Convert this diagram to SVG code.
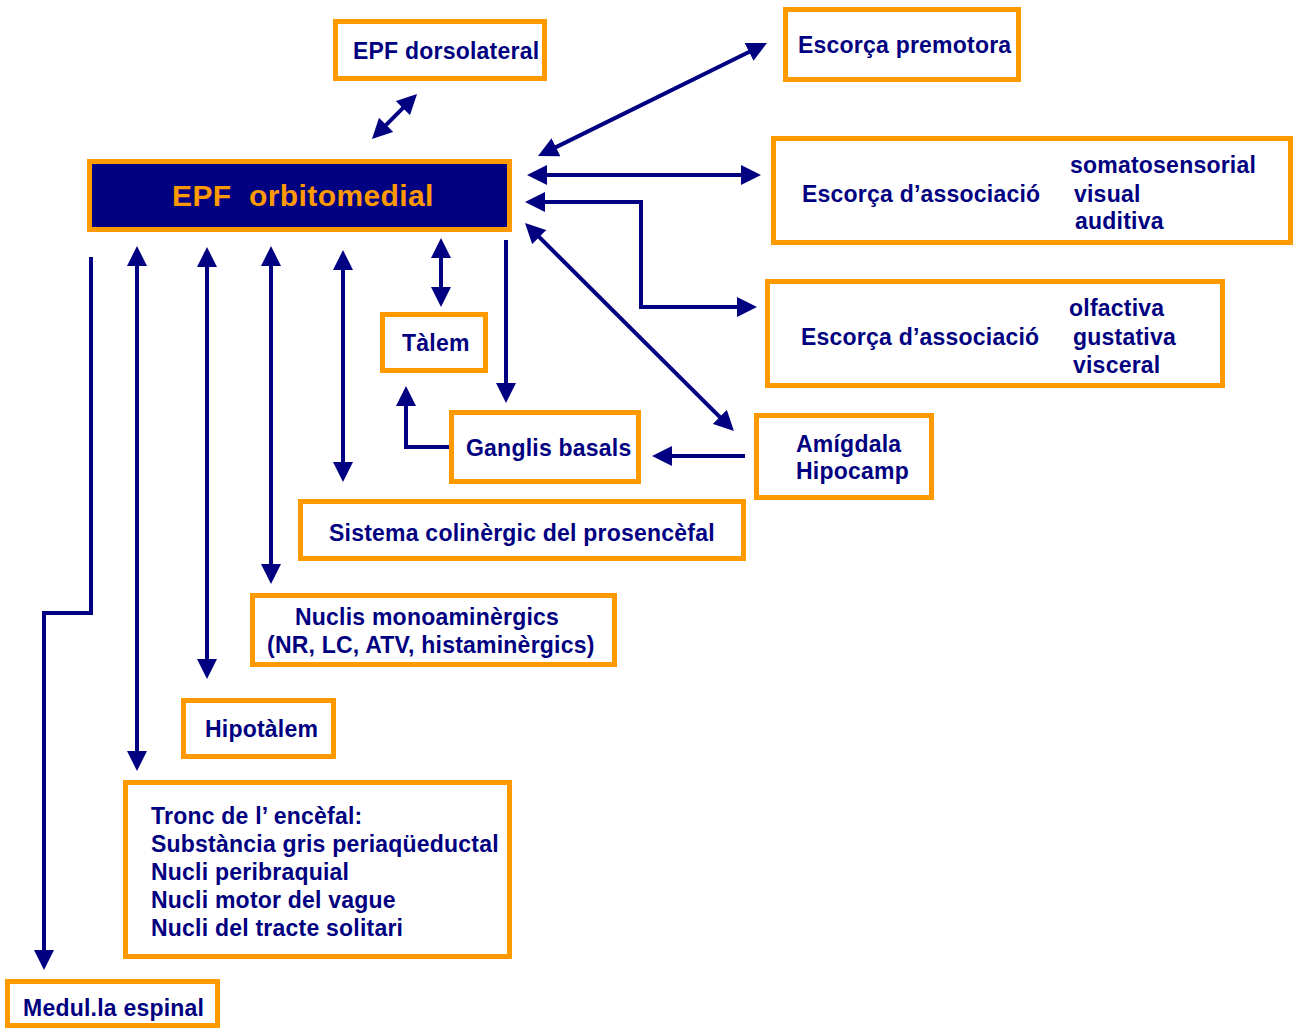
<svg xmlns="http://www.w3.org/2000/svg" width="1293" height="1028" viewBox="0 0 1293 1028">
<style>
.box{fill:#ffffff;stroke:#ff9900;stroke-width:5}
.main{fill:#000080;stroke:#ff9900;stroke-width:5}
.t{font-family:"Liberation Sans",Arial,sans-serif;font-size:23px;font-weight:bold;fill:#000080;letter-spacing:0.22px}
.tm{font-family:"Liberation Sans",Arial,sans-serif;font-size:30px;font-weight:bold;fill:#ff9900;letter-spacing:0.4px}
.c{fill:none;stroke:#000080;stroke-width:4}
.a2{marker-start:url(#ah);marker-end:url(#ah)}
.a1{marker-end:url(#ah)}
</style>
<defs>
<marker id="ah" viewBox="0 0 20 20" refX="14" refY="10" markerWidth="20" markerHeight="20" markerUnits="userSpaceOnUse" orient="auto-start-reverse">
<path d="M0,0 L20,10 L0,20 z" fill="#000080"/>
</marker>
</defs>
<rect width="1293" height="1028" fill="#ffffff"/>
<g id="connectors">
<path class="c a2" d="M376.2,134.8 L412.8,98.2"/>
<path class="c a2" d="M543.4,153.4 L761.6,45.7"/>
<path class="c a2" d="M533,175 H755"/>
<path class="c a2" d="M531,202 H641 V307 H751"/>
<path class="c a2" d="M529.3,227.2 L729.7,426.8"/>
<path class="c a2" d="M441,244 V301"/>
<path class="c a1" d="M506,240 V397"/>
<path class="c a1" d="M449,447 H406 V392"/>
<path class="c a1" d="M745,456 H658"/>
<path class="c a2" d="M343,256 V476"/>
<path class="c a2" d="M271,252 V578"/>
<path class="c a2" d="M207,253 V673"/>
<path class="c a2" d="M137,252 V765"/>
<path class="c a1" d="M91,257 V613 H44 V964"/>
</g>
<g id="epf-orbitomedial">
<rect class="main" x="89.5" y="161.5" width="420" height="68"/>
<text class="tm" x="172" y="206">EPF&#160; orbitomedial</text>
</g>
<g id="epf-dorsolateral">
<rect class="box" x="335.5" y="21.5" width="209" height="57"/>
<text class="t" x="353" y="59">EPF dorsolateral</text>
</g>
<g id="escorca-premotora">
<rect class="box" x="785.5" y="9.5" width="233" height="70"/>
<text class="t" x="798" y="53">Escorça premotora</text>
</g>
<g id="escorca-associacio-1">
<rect class="box" x="773.5" y="138.5" width="517" height="104"/>
<text class="t" x="802" y="202">Escorça d’associació</text>
<text class="t" x="1070" y="173">somatosensorial</text>
<text class="t" x="1074" y="202">visual</text>
<text class="t" x="1075" y="229">auditiva</text>
</g>
<g id="escorca-associacio-2">
<rect class="box" x="767.5" y="281.5" width="455" height="104"/>
<text class="t" x="801" y="345">Escorça d’associació</text>
<text class="t" x="1069" y="316">olfactiva</text>
<text class="t" x="1073" y="345">gustativa</text>
<text class="t" x="1073" y="373">visceral</text>
</g>
<g id="talem">
<rect class="box" x="382.5" y="314.5" width="103" height="56"/>
<text class="t" x="402" y="351">Tàlem</text>
</g>
<g id="ganglis-basals">
<rect class="box" x="451.5" y="412.5" width="187" height="69"/>
<text class="t" x="466" y="456">Ganglis basals</text>
</g>
<g id="amigdala-hipocamp">
<rect class="box" x="756.5" y="415.5" width="175" height="82"/>
<text class="t" x="796" y="452">Amígdala</text>
<text class="t" x="796" y="479">Hipocamp</text>
</g>
<g id="sistema-colinergic">
<rect class="box" x="300.5" y="501.5" width="443" height="57"/>
<text class="t" x="329" y="541">Sistema colinèrgic del prosencèfal</text>
</g>
<g id="nuclis-monoaminergics">
<rect class="box" x="252.5" y="595.5" width="362" height="69"/>
<text class="t" x="295" y="625">Nuclis monoaminèrgics</text>
<text class="t" x="267" y="653">(NR, LC, ATV, histaminèrgics)</text>
</g>
<g id="hipotalem">
<rect class="box" x="183.5" y="700.5" width="150" height="56"/>
<text class="t" x="205" y="737">Hipotàlem</text>
</g>
<g id="tronc-encefal">
<rect class="box" x="125.5" y="782.5" width="384" height="174"/>
<text class="t" x="151" y="824">Tronc de l’ encèfal:</text>
<text class="t" x="151" y="852">Substància gris periaqüeductal</text>
<text class="t" x="151" y="880">Nucli peribraquial</text>
<text class="t" x="151" y="908">Nucli motor del vague</text>
<text class="t" x="151" y="936">Nucli del tracte solitari</text>
</g>
<g id="medulla-espinal">
<rect class="box" x="7.5" y="981.5" width="210" height="44"/>
<text class="t" x="23" y="1016">Medul.la espinal</text>
</g>
</svg>
